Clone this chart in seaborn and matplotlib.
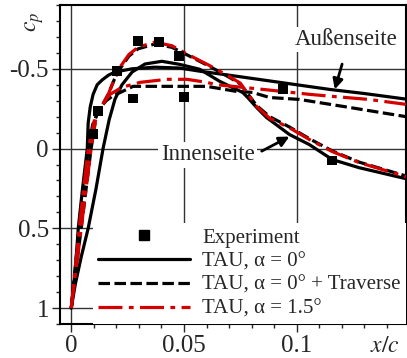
import matplotlib
matplotlib.use('Agg')
import matplotlib.pyplot as plt
from matplotlib.lines import Line2D
from matplotlib.ticker import MultipleLocator
import seaborn as sns

# Experiment (black squares)
exp_x = [0.0095, 0.0119, 0.0203, 0.0274, 0.0296, 0.0389, 0.0477, 0.0499, 0.0941, 0.1158]
exp_cp = [-0.09, -0.233, -0.484, -0.314, -0.673, -0.667, -0.579, -0.321, -0.371, 0.075]

# TAU, alpha = 0 deg (solid black)
tau0_out_x = [0, 0.0009, 0.0018, 0.0031, 0.0050, 0.0071, 0.0075, 0.0084, 0.0097, 0.0115, 0.0137,
              0.0165, 0.0194, 0.027, 0.037, 0.048, 0.057, 0.07, 0.085, 0.1, 0.115, 0.13, 0.1485]
tau0_out_cp = [1.0, 0.88, 0.76, 0.5, 0.25, 0.0, -0.16, -0.26, -0.34, -0.40, -0.43,
               -0.46, -0.48, -0.50, -0.51, -0.505, -0.485, -0.46, -0.43, -0.40, -0.37, -0.345, -0.31]
tau0_in_x = [0, 0.0018, 0.0044, 0.0075, 0.011, 0.0141, 0.0168, 0.0194, 0.0225, 0.027, 0.0327,
             0.0402, 0.048, 0.057, 0.0659, 0.076, 0.0782, 0.0822, 0.0866, 0.0968, 0.1056,
             0.1158, 0.1277, 0.1485]
tau0_in_cp = [1.0, 0.85, 0.68, 0.5, 0.25, 0.0, -0.18, -0.31, -0.40, -0.48, -0.53,
              -0.547, -0.528, -0.497, -0.421, -0.352, -0.321, -0.258, -0.195, -0.088, -0.025,
              0.069, 0.12, 0.189]

# TAU, alpha = 0 deg + Traverse (dashed black)
trav_out_x = [0, 0.0017, 0.0035, 0.0055, 0.0075, 0.0095, 0.0125, 0.0155, 0.0181, 0.0274,
              0.0393, 0.0601, 0.0734, 0.0804, 0.088, 0.1012, 0.1233, 0.1485]
trav_out_cp = [1.0, 0.75, 0.5, 0.25, 0.0, -0.15, -0.25, -0.30, -0.327, -0.39,
               -0.39, -0.39, -0.358, -0.352, -0.32, -0.308, -0.258, -0.20]
trav_in_x = [0, 0.0022, 0.0044, 0.0066, 0.0088, 0.011, 0.0164, 0.019, 0.0221, 0.0256, 0.0296,
             0.037, 0.0446, 0.0517, 0.0614, 0.0703, 0.075, 0.079, 0.0822, 0.088, 0.0968,
             0.1056, 0.1158, 0.1277, 0.1485]
trav_in_cp = [1.0, 0.75, 0.5, 0.25, 0.0, -0.2, -0.34, -0.43, -0.51, -0.58, -0.625,
              -0.655, -0.635, -0.585, -0.515, -0.445, -0.405, -0.33, -0.27, -0.2, -0.135,
              -0.062, 0.015, 0.085, 0.172]

# TAU, alpha = 1.5 deg (red dash-dot)
a15_out_x = [0, 0.0018, 0.0035, 0.0055, 0.0075, 0.0106, 0.015, 0.0172, 0.0225, 0.0305,
             0.0424, 0.0513, 0.0601, 0.0645, 0.076, 0.0937, 0.1056, 0.1158, 0.132, 0.1485]
a15_out_cp = [1.0, 0.75, 0.5, 0.25, 0.0, -0.2, -0.30, -0.34, -0.384, -0.415,
              -0.434, -0.434, -0.415, -0.40, -0.384, -0.358, -0.34, -0.327, -0.308, -0.277]
a15_in_x = [0, 0.0022, 0.0044, 0.0066, 0.0088, 0.011, 0.0164, 0.019, 0.0221, 0.0256, 0.0296,
            0.037, 0.0446, 0.0517, 0.0614, 0.0703, 0.075, 0.079, 0.0822, 0.088, 0.0968,
            0.1056, 0.1158, 0.1277, 0.1485]
a15_in_cp = [1.0, 0.75, 0.5, 0.25, 0.0, -0.2, -0.34, -0.43, -0.52, -0.59, -0.635,
             -0.667, -0.645, -0.59, -0.52, -0.45, -0.41, -0.33, -0.264, -0.19, -0.13,
             -0.057, 0.019, 0.088, 0.176]

legend_labels = ['Experiment', 'TAU, α = 0°', 'TAU, α = 0° + Traverse', 'TAU, α = 1.5°']

sns.set_style('ticks')
plt.rcParams['font.family'] = ['Liberation Serif', 'DejaVu Serif']
plt.rcParams['mathtext.fontset'] = 'stix'

RED = '#d40000'
dash_ls = (0, (3.6, 1.4))
dashdot_ls = (0, (7.5, 2.0, 1.5, 2.0))

fig = plt.figure(figsize=(4.07, 3.58), dpi=100)
ax = fig.add_axes([60 / 407, 34 / 358, 346 / 407, 319 / 358])

for xs, ys in [(tau0_out_x, tau0_out_cp), (tau0_in_x, tau0_in_cp)]:
    sns.lineplot(x=xs, y=ys, ax=ax, sort=False, estimator=None, color='black', lw=2.3, zorder=3)
for xs, ys in [(trav_out_x, trav_out_cp), (trav_in_x, trav_in_cp)]:
    sns.lineplot(x=xs, y=ys, ax=ax, sort=False, estimator=None, color='black', lw=2.3,
                 linestyle=dash_ls, zorder=4)
for xs, ys in [(a15_out_x, a15_out_cp), (a15_in_x, a15_in_cp)]:
    sns.lineplot(x=xs, y=ys, ax=ax, sort=False, estimator=None, color=RED, lw=2.3,
                 linestyle=dashdot_ls, zorder=5)
sns.scatterplot(x=exp_x, y=exp_cp, ax=ax, marker='s', color='black', s=50,
                edgecolor='none', zorder=6)

ax.set_xlim(-0.005, 0.1485)
ax.set_ylim(1.1, -0.9)
ax.set_xticks([0, 0.05, 0.1])
ax.set_xticklabels(['0', '0.05', '0.1'])
ax.set_yticks([-0.5, 0, 0.5, 1])
ax.set_yticklabels(['-0.5', '0', '0.5', '1'])
ax.xaxis.set_minor_locator(MultipleLocator(0.01))
ax.yaxis.set_minor_locator(MultipleLocator(0.1))
ax.tick_params(which='major', direction='out', length=6, width=1, labelsize=18, pad=2)
ax.tick_params(which='minor', direction='out', length=3, width=1)
ax.grid(True, which='major', color='#333333', lw=1.0)
for sp in ax.spines.values():
    sp.set_visible(True)
    sp.set_linewidth(1.5)
    sp.set_color('black')
ax.set_xlabel('')
ax.set_ylabel('')

fig.text(385 / 407, 1 - 347 / 358, '$x/c$', fontsize=17, ha='center', va='center')
fig.text(35 / 407, 1 - 22 / 358, '$c_p$', fontsize=17, ha='center', va='center', rotation=90)

handles = [
    Line2D([], [], marker='s', color='black', linestyle='none', markersize=6.5),
    Line2D([], [], color='black', lw=2.3),
    Line2D([], [], color='black', lw=2.3, linestyle=dash_ls),
    Line2D([], [], color=RED, lw=2.3, linestyle=dashdot_ls),
]
leg = ax.legend(handles, legend_labels, loc='lower right', bbox_to_anchor=(1.0, 0.0),
                frameon=True, fancybox=False, fontsize=15, handlelength=4.4,
                handletextpad=0.6, labelspacing=0.2, borderpad=0.25, borderaxespad=0.0)
leg.get_frame().set_facecolor('white')
leg.get_frame().set_edgecolor('none')
leg.get_frame().set_alpha(1.0)
leg.set_zorder(10)

box = dict(boxstyle='square,pad=0.1', facecolor='white', edgecolor='none')
ax.annotate('Außenseite', xy=(0.1169, -0.371), xytext=(0.122, -0.685), fontsize=16.5,
            ha='center', va='center', bbox=box, zorder=8,
            arrowprops=dict(arrowstyle='-|>', color='black', lw=2, mutation_scale=15,
                            relpos=(0.5, 0.0), shrinkA=9, shrinkB=0))
ax.annotate('Innenseite', xy=(0.0968, -0.075), xytext=(0.0605, 0.04), fontsize=16.5,
            ha='center', va='center', bbox=box, zorder=8,
            arrowprops=dict(arrowstyle='-|>', color='black', lw=2, mutation_scale=15,
                            relpos=(1.0, 0.5), shrinkA=4, shrinkB=0))

fig.savefig('out.png', dpi=100)
